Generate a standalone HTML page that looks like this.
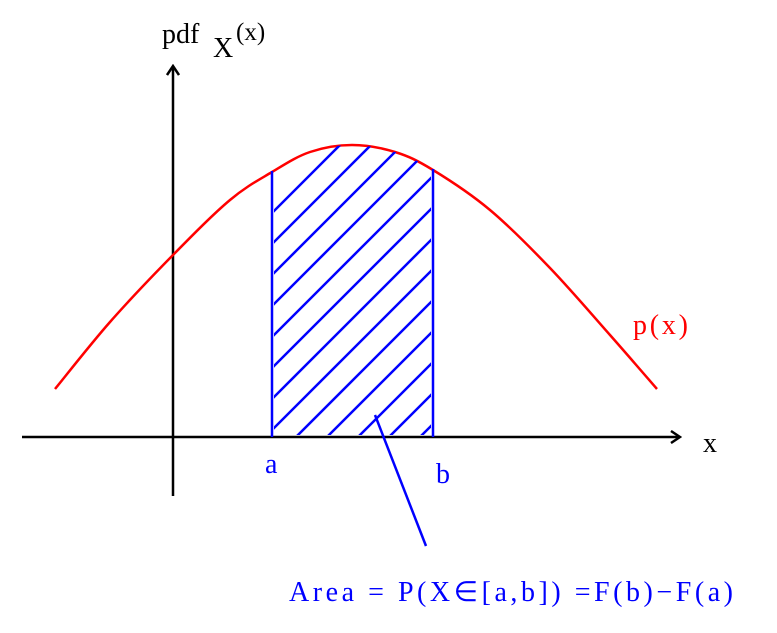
<!DOCTYPE html>
<html><head><meta charset="utf-8"><style>
html,body{margin:0;padding:0;background:#fff;}
svg{display:block;font-family:"Liberation Serif",serif;}
</style></head><body>
<svg width="777" height="633" viewBox="0 0 777 633">
<defs>
  <marker id="arr" markerWidth="12" markerHeight="14" refX="10" refY="7" orient="auto" markerUnits="userSpaceOnUse">
    <path d="M1,1 L10,7 L1,13" fill="none" stroke="#000" stroke-width="2.5"/>
  </marker>
  <clipPath id="areaClip"><path id="clipShape" d=""/></clipPath>
  <clipPath id="abClip"><rect x="274" y="0" width="157" height="435"/></clipPath>
</defs>
<line x1="22" y1="437" x2="680" y2="437" stroke="#000" stroke-width="2.5" marker-end="url(#arr)"/>
<line x1="173" y1="496" x2="173" y2="66" stroke="#000" stroke-width="2.5" marker-end="url(#arr)"/>
<text x="162" y="43" font-size="28">pdf</text>
<text x="213" y="57" font-size="28">X</text>
<text x="236" y="40" font-size="25">(x)</text>
<text x="703" y="452" font-size="28">x</text>
<path id="curve" d="" fill="none" stroke="#f00" stroke-width="2.5"/>
<text x="633" y="334" font-size="28" fill="#f00" textLength="55">p(x)</text>
<g clip-path="url(#areaClip)">
<g id="hatch" clip-path="url(#abClip)" stroke="#00f" stroke-width="2.5"></g>
</g>
<line x1="272" y1="171" x2="272" y2="437" stroke="#00f" stroke-width="2.5"/>
<line x1="433" y1="169" x2="433" y2="437" stroke="#00f" stroke-width="2.5"/>
<text x="265" y="473" font-size="28" fill="#00f">a</text>
<text x="436" y="483" font-size="28" fill="#00f">b</text>
<line x1="375" y1="415" x2="426" y2="546" stroke="#00f" stroke-width="2.5"/>
<text x="289" y="601" font-size="28" fill="#00f" textLength="444">Area  =  P(X∈[a,b])  =F(b)−F(a)</text>
</svg>
<script>
const curveX = [55, 110, 173, 230, 272, 310, 352, 395, 433, 490, 550, 610, 657];
const curveY = [389, 322, 255, 200, 172, 152, 145, 152, 170, 210, 268, 335, 389];
const hatchOffsets = [485, 516, 547, 578, 609, 640, 671, 702, 733, 764, 795, 826, 857];
const axisY = 437, aX = 272, bX = 433;
function curvePath(){
  let d = 'M' + curveX[0] + ',' + curveY[0];
  for (let i = 1; i < curveX.length; i++) {
    const x0 = curveX[i-1], y0 = curveY[i-1], x1 = curveX[i], y1 = curveY[i];
    const xp = curveX[Math.max(i-2,0)], yp = curveY[Math.max(i-2,0)];
    const xn = curveX[Math.min(i+1,curveX.length-1)], yn = curveY[Math.min(i+1,curveX.length-1)];
    const c1x = x0 + (x1 - xp)/6, c1y = y0 + (y1 - yp)/6;
    const c2x = x1 - (xn - x0)/6, c2y = y1 - (yn - y0)/6;
    d += ' C' + c1x + ',' + c1y + ' ' + c2x + ',' + c2y + ' ' + x1 + ',' + y1;
  }
  return d;
}
document.getElementById('curve').setAttribute('d', curvePath());
document.getElementById('clipShape').setAttribute('d', curvePath() + ' L657,' + (axisY-2) + ' L55,' + (axisY-2) + ' Z');
const g = document.getElementById('hatch');
hatchOffsets.forEach(function(c){
  const l = document.createElementNS('http://www.w3.org/2000/svg','line');
  
  
  l.setAttribute('x1', aX - 20); l.setAttribute('y1', c - (aX - 20));
  l.setAttribute('x2', bX + 20); l.setAttribute('y2', c - (bX + 20));
  g.appendChild(l);
});
</script>
</body></html>
